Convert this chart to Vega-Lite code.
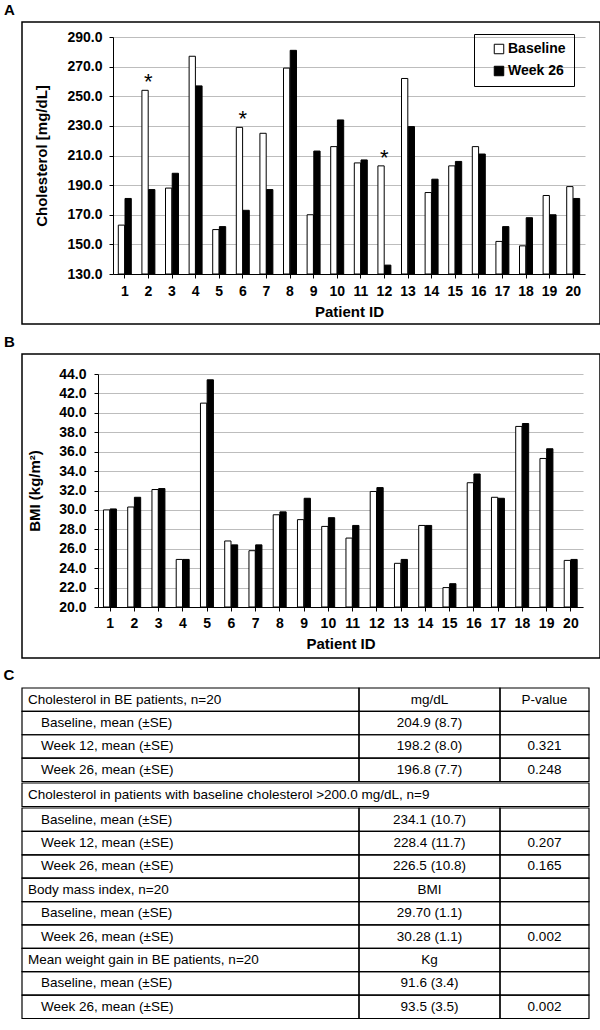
{
  "$schema": "https://vega.github.io/schema/vega-lite/v6.json",
  "padding": {"left": 3, "top": 2, "right": 0, "bottom": 0},
  "autosize": {"type": "pad"},
  "background": "white",
  "bounds": "flush",
  "spacing": 30,
  "config": {
    "view": {"stroke": null},
    "font": "Liberation Sans",
    "title": {"anchor": "start", "dx": -18, "offset": 4, "fontSize": 15, "fontWeight": "bold", "color": "black", "font": "Liberation Sans"},
    "axis": {"labelFont": "Liberation Sans", "labelFontWeight": "bold", "labelFontSize": 14, "labelColor": "black", "labelOverlap": false, "titleFont": "Liberation Sans", "titleFontWeight": "bold", "titleFontSize": 15, "titleColor": "black", "domainColor": "black", "domainWidth": 1, "tickColor": "black", "tickSize": 4, "gridColor": "#bdbdbd", "gridWidth": 1},
    "legend": {"strokeColor": "black", "padding": 8, "symbolType": "square", "symbolSize": 90, "symbolStrokeColor": "black", "symbolStrokeWidth": 1, "symbolOffset": 10, "labelFont": "Liberation Sans", "labelFontSize": 14, "labelFontWeight": "bold", "labelColor": "black", "rowPadding": 8, "labelOffset": 2}
  },
  "datasets": {
    "chol": [
      {"patient": 1, "visit": "Baseline", "value": 163}, {"patient": 1, "visit": "Week 26", "value": 181},
      {"patient": 2, "visit": "Baseline", "value": 254, "sig": "*"}, {"patient": 2, "visit": "Week 26", "value": 187},
      {"patient": 3, "visit": "Baseline", "value": 188}, {"patient": 3, "visit": "Week 26", "value": 198},
      {"patient": 4, "visit": "Baseline", "value": 277}, {"patient": 4, "visit": "Week 26", "value": 257},
      {"patient": 5, "visit": "Baseline", "value": 160}, {"patient": 5, "visit": "Week 26", "value": 162},
      {"patient": 6, "visit": "Baseline", "value": 229, "sig": "*"}, {"patient": 6, "visit": "Week 26", "value": 173},
      {"patient": 7, "visit": "Baseline", "value": 225}, {"patient": 7, "visit": "Week 26", "value": 187},
      {"patient": 8, "visit": "Baseline", "value": 269}, {"patient": 8, "visit": "Week 26", "value": 281},
      {"patient": 9, "visit": "Baseline", "value": 170}, {"patient": 9, "visit": "Week 26", "value": 213},
      {"patient": 10, "visit": "Baseline", "value": 216}, {"patient": 10, "visit": "Week 26", "value": 234},
      {"patient": 11, "visit": "Baseline", "value": 205}, {"patient": 11, "visit": "Week 26", "value": 207},
      {"patient": 12, "visit": "Baseline", "value": 203, "sig": "*"}, {"patient": 12, "visit": "Week 26", "value": 136},
      {"patient": 13, "visit": "Baseline", "value": 262}, {"patient": 13, "visit": "Week 26", "value": 229.5},
      {"patient": 14, "visit": "Baseline", "value": 185}, {"patient": 14, "visit": "Week 26", "value": 194},
      {"patient": 15, "visit": "Baseline", "value": 203}, {"patient": 15, "visit": "Week 26", "value": 206},
      {"patient": 16, "visit": "Baseline", "value": 216}, {"patient": 16, "visit": "Week 26", "value": 211},
      {"patient": 17, "visit": "Baseline", "value": 152}, {"patient": 17, "visit": "Week 26", "value": 162},
      {"patient": 18, "visit": "Baseline", "value": 149}, {"patient": 18, "visit": "Week 26", "value": 168},
      {"patient": 19, "visit": "Baseline", "value": 183}, {"patient": 19, "visit": "Week 26", "value": 170},
      {"patient": 20, "visit": "Baseline", "value": 189}, {"patient": 20, "visit": "Week 26", "value": 181}
    ],
    "bmi": [
      {"patient": 1, "visit": "Baseline", "value": 30.0}, {"patient": 1, "visit": "Week 26", "value": 30.1},
      {"patient": 2, "visit": "Baseline", "value": 30.3}, {"patient": 2, "visit": "Week 26", "value": 31.3},
      {"patient": 3, "visit": "Baseline", "value": 32.1}, {"patient": 3, "visit": "Week 26", "value": 32.2},
      {"patient": 4, "visit": "Baseline", "value": 24.9}, {"patient": 4, "visit": "Week 26", "value": 24.9},
      {"patient": 5, "visit": "Baseline", "value": 41.0}, {"patient": 5, "visit": "Week 26", "value": 43.4},
      {"patient": 6, "visit": "Baseline", "value": 26.8}, {"patient": 6, "visit": "Week 26", "value": 26.4},
      {"patient": 7, "visit": "Baseline", "value": 25.8}, {"patient": 7, "visit": "Week 26", "value": 26.4},
      {"patient": 8, "visit": "Baseline", "value": 29.5}, {"patient": 8, "visit": "Week 26", "value": 29.8},
      {"patient": 9, "visit": "Baseline", "value": 29.0}, {"patient": 9, "visit": "Week 26", "value": 31.2},
      {"patient": 10, "visit": "Baseline", "value": 28.3}, {"patient": 10, "visit": "Week 26", "value": 29.2},
      {"patient": 11, "visit": "Baseline", "value": 27.1}, {"patient": 11, "visit": "Week 26", "value": 28.4},
      {"patient": 12, "visit": "Baseline", "value": 31.9}, {"patient": 12, "visit": "Week 26", "value": 32.3},
      {"patient": 13, "visit": "Baseline", "value": 24.5}, {"patient": 13, "visit": "Week 26", "value": 24.9},
      {"patient": 14, "visit": "Baseline", "value": 28.4}, {"patient": 14, "visit": "Week 26", "value": 28.4},
      {"patient": 15, "visit": "Baseline", "value": 22.0}, {"patient": 15, "visit": "Week 26", "value": 22.4},
      {"patient": 16, "visit": "Baseline", "value": 32.8}, {"patient": 16, "visit": "Week 26", "value": 33.7},
      {"patient": 17, "visit": "Baseline", "value": 31.3}, {"patient": 17, "visit": "Week 26", "value": 31.2},
      {"patient": 18, "visit": "Baseline", "value": 38.6}, {"patient": 18, "visit": "Week 26", "value": 38.9},
      {"patient": 19, "visit": "Baseline", "value": 35.3}, {"patient": 19, "visit": "Week 26", "value": 36.3},
      {"patient": 20, "visit": "Baseline", "value": 24.8}, {"patient": 20, "visit": "Week 26", "value": 24.9}
    ],
    "tab": [
      {"g": 1, "r": 0, "c": "label", "lvl": "head", "t": "Cholesterol in BE patients, n=20"},
      {"g": 1, "r": 0, "c": "value", "t": "mg/dL"},
      {"g": 1, "r": 0, "c": "p", "t": "P-value"},
      {"g": 1, "r": 1, "c": "label", "lvl": "sub", "t": "Baseline, mean (±SE)"},
      {"g": 1, "r": 1, "c": "value", "t": "204.9 (8.7)"},
      {"g": 1, "r": 1, "c": "p", "t": ""},
      {"g": 1, "r": 2, "c": "label", "lvl": "sub", "t": "Week 12, mean (±SE)"},
      {"g": 1, "r": 2, "c": "value", "t": "198.2 (8.0)"},
      {"g": 1, "r": 2, "c": "p", "t": "0.321"},
      {"g": 1, "r": 3, "c": "label", "lvl": "sub", "t": "Week 26, mean (±SE)"},
      {"g": 1, "r": 3, "c": "value", "t": "196.8 (7.7)"},
      {"g": 1, "r": 3, "c": "p", "t": "0.248"},
      {"g": 2, "r": 0, "c": "span", "lvl": "head", "t": "Cholesterol in patients with baseline cholesterol >200.0 mg/dL, n=9"},
      {"g": 3, "r": 0, "c": "label", "lvl": "sub", "t": "Baseline, mean (±SE)"},
      {"g": 3, "r": 0, "c": "value", "t": "234.1 (10.7)"},
      {"g": 3, "r": 0, "c": "p", "t": ""},
      {"g": 3, "r": 1, "c": "label", "lvl": "sub", "t": "Week 12, mean (±SE)"},
      {"g": 3, "r": 1, "c": "value", "t": "228.4 (11.7)"},
      {"g": 3, "r": 1, "c": "p", "t": "0.207"},
      {"g": 3, "r": 2, "c": "label", "lvl": "sub", "t": "Week 26, mean (±SE)"},
      {"g": 3, "r": 2, "c": "value", "t": "226.5 (10.8)"},
      {"g": 3, "r": 2, "c": "p", "t": "0.165"},
      {"g": 3, "r": 3, "c": "label", "lvl": "head", "t": "Body mass index, n=20"},
      {"g": 3, "r": 3, "c": "value", "t": "BMI"},
      {"g": 3, "r": 3, "c": "p", "t": ""},
      {"g": 3, "r": 4, "c": "label", "lvl": "sub", "t": "Baseline, mean (±SE)"},
      {"g": 3, "r": 4, "c": "value", "t": "29.70 (1.1)"},
      {"g": 3, "r": 4, "c": "p", "t": ""},
      {"g": 3, "r": 5, "c": "label", "lvl": "sub", "t": "Week 26, mean (±SE)"},
      {"g": 3, "r": 5, "c": "value", "t": "30.28 (1.1)"},
      {"g": 3, "r": 5, "c": "p", "t": "0.002"},
      {"g": 3, "r": 6, "c": "label", "lvl": "head", "t": "Mean weight gain in BE patients, n=20"},
      {"g": 3, "r": 6, "c": "value", "t": "Kg"},
      {"g": 3, "r": 6, "c": "p", "t": ""},
      {"g": 3, "r": 7, "c": "label", "lvl": "sub", "t": "Baseline, mean (±SE)"},
      {"g": 3, "r": 7, "c": "value", "t": "91.6 (3.4)"},
      {"g": 3, "r": 7, "c": "p", "t": ""},
      {"g": 3, "r": 8, "c": "label", "lvl": "sub", "t": "Week 26, mean (±SE)"},
      {"g": 3, "r": 8, "c": "value", "t": "93.5 (3.5)"},
      {"g": 3, "r": 8, "c": "p", "t": "0.002"}
    ]
  },
  "vconcat": [
    {
      "width": 578, "height": 302,
      "view": {"stroke": "black", "strokeWidth": 1.5},
      "title": "A",
      "data": {"name": "chol"},
      "layer": [
        {
          "mark": {"type": "bar", "stroke": "black", "strokeWidth": 1},
          "encoding": {
            "x": {"field": "patient", "type": "ordinal", "scale": {"range": [91, 563], "paddingInner": 0.45, "paddingOuter": 0.225},
                  "axis": {"title": "Patient ID", "labelAngle": 0, "offset": -50, "labelPadding": 6, "titlePadding": 6, "grid": false}},
            "xOffset": {"field": "visit", "type": "nominal", "scale": {"paddingInner": 0.06}},
            "y": {"field": "value", "type": "quantitative", "scale": {"domain": [130, 290], "range": [252, 15], "nice": false, "zero": false},
                  "axis": {"title": "Cholesterol [mg/dL]", "offset": -91, "values": [130, 150, 170, 190, 210, 230, 250, 270, 290], "tickCount": 9, "format": ".1f", "grid": true, "labelPadding": 7, "titlePadding": 17}},
            "y2": {"datum": 130},
            "fill": {"field": "visit", "type": "nominal", "scale": {"domain": ["Baseline", "Week 26"], "range": ["white", "black"]},
                     "legend": {"title": null, "orient": "none", "legendX": 452, "legendY": 12}}
          }
        },
        {
          "transform": [{"filter": "datum.sig != null"}],
          "mark": {"type": "text", "fontSize": 22, "baseline": "alphabetic", "dy": -1, "color": "black"},
          "encoding": {
            "x": {"field": "patient", "type": "ordinal"},
            "y": {"field": "value", "type": "quantitative"},
            "text": {"field": "sig"}
          }
        }
      ]
    },
    {
      "width": 578, "height": 304,
      "view": {"stroke": "black", "strokeWidth": 1.5},
      "title": "B",
      "data": {"name": "bmi"},
      "layer": [
        {
          "mark": {"type": "bar", "stroke": "black", "strokeWidth": 1},
          "encoding": {
            "x": {"field": "patient", "type": "ordinal", "scale": {"range": [76, 561], "paddingInner": 0.45, "paddingOuter": 0.225},
                  "axis": {"title": "Patient ID", "labelAngle": 0, "offset": -51, "labelPadding": 5, "titlePadding": 6, "grid": false}},
            "xOffset": {"field": "visit", "type": "nominal", "scale": {"paddingInner": 0.06}},
            "y": {"field": "value", "type": "quantitative", "scale": {"domain": [20, 44], "range": [253, 20], "nice": false, "zero": false},
                  "axis": {"title": "BMI (kg/m²)", "offset": -76, "values": [20, 22, 24, 26, 28, 30, 32, 34, 36, 38, 40, 42, 44], "tickCount": 13, "format": ".1f", "grid": true, "labelPadding": 8, "titlePadding": 16}},
            "y2": {"datum": 20},
            "fill": {"field": "visit", "type": "nominal", "scale": {"domain": ["Baseline", "Week 26"], "range": ["white", "black"]},
                     "legend": {"title": null, "orient": "none", "legendX": 455, "legendY": 15}}
          }
        }
      ]
    },
    {
      "title": "C",
      "spacing": -1.2,
      "bounds": "full",
      "vconcat": [
        {
          "spacing": 0,
          "bounds": "flush",
          "hconcat": [
            {
              "width": 337, "height": 93.5,
              "data": {"name": "tab"},
              "transform": [{"filter": "datum.g == 1 && datum.c == 'label'"}],
              "encoding": {"y": {"field": "r", "type": "ordinal", "axis": null, "scale": {"paddingInner": 0, "paddingOuter": 0}}},
              "layer": [
                {"mark": {"type": "rect", "fillOpacity": 0, "stroke": "black", "strokeWidth": 1.2}},
                {"mark": {"type": "text", "align": "left", "baseline": "middle", "fontSize": 13.5, "color": "black"},
                 "encoding": {"x": {"field": "lvl", "type": "ordinal", "axis": null, "scale": {"domain": ["head", "sub"], "range": [6, 19], "padding": 0}}, "text": {"field": "t"}}}
              ]
            },
            {
              "width": 141, "height": 93.5,
              "data": {"name": "tab"},
              "transform": [{"filter": "datum.g == 1 && datum.c == 'value'"}],
              "encoding": {"y": {"field": "r", "type": "ordinal", "axis": null, "scale": {"paddingInner": 0, "paddingOuter": 0}}},
              "layer": [
                {"mark": {"type": "rect", "fillOpacity": 0, "stroke": "black", "strokeWidth": 1.2}},
                {"mark": {"type": "text", "align": "center", "baseline": "middle", "fontSize": 13.5, "color": "black"},
                 "encoding": {"text": {"field": "t"}}}
              ]
            },
            {
              "width": 89, "height": 93.5,
              "data": {"name": "tab"},
              "transform": [{"filter": "datum.g == 1 && datum.c == 'p'"}],
              "encoding": {"y": {"field": "r", "type": "ordinal", "axis": null, "scale": {"paddingInner": 0, "paddingOuter": 0}}},
              "layer": [
                {"mark": {"type": "rect", "fillOpacity": 0, "stroke": "black", "strokeWidth": 1.2}},
                {"mark": {"type": "text", "align": "center", "baseline": "middle", "fontSize": 13.5, "color": "black"},
                 "encoding": {"text": {"field": "t"}}}
              ]
            }
          ]
        },
        {
          "width": 567, "height": 23.5,
          "data": {"name": "tab"},
          "transform": [{"filter": "datum.g == 2"}],
          "encoding": {"y": {"field": "r", "type": "ordinal", "axis": null, "scale": {"paddingInner": 0, "paddingOuter": 0}}},
          "layer": [
            {"mark": {"type": "rect", "fillOpacity": 0, "stroke": "black", "strokeWidth": 1.2}},
            {"mark": {"type": "text", "align": "left", "baseline": "middle", "fontSize": 13.5, "color": "black"},
             "encoding": {"x": {"field": "lvl", "type": "ordinal", "axis": null, "scale": {"domain": ["head", "sub"], "range": [6, 19], "padding": 0}}, "text": {"field": "t"}}}
          ]
        },
        {
          "spacing": 0,
          "bounds": "flush",
          "hconcat": [
            {
              "width": 337, "height": 210.5,
              "data": {"name": "tab"},
              "transform": [{"filter": "datum.g == 3 && datum.c == 'label'"}],
              "encoding": {"y": {"field": "r", "type": "ordinal", "axis": null, "scale": {"paddingInner": 0, "paddingOuter": 0}}},
              "layer": [
                {"mark": {"type": "rect", "fillOpacity": 0, "stroke": "black", "strokeWidth": 1.2}},
                {"mark": {"type": "text", "align": "left", "baseline": "middle", "fontSize": 13.5, "color": "black"},
                 "encoding": {"x": {"field": "lvl", "type": "ordinal", "axis": null, "scale": {"domain": ["head", "sub"], "range": [6, 19], "padding": 0}}, "text": {"field": "t"}}}
              ]
            },
            {
              "width": 141, "height": 210.5,
              "data": {"name": "tab"},
              "transform": [{"filter": "datum.g == 3 && datum.c == 'value'"}],
              "encoding": {"y": {"field": "r", "type": "ordinal", "axis": null, "scale": {"paddingInner": 0, "paddingOuter": 0}}},
              "layer": [
                {"mark": {"type": "rect", "fillOpacity": 0, "stroke": "black", "strokeWidth": 1.2}},
                {"mark": {"type": "text", "align": "center", "baseline": "middle", "fontSize": 13.5, "color": "black"},
                 "encoding": {"text": {"field": "t"}}}
              ]
            },
            {
              "width": 89, "height": 210.5,
              "data": {"name": "tab"},
              "transform": [{"filter": "datum.g == 3 && datum.c == 'p'"}],
              "encoding": {"y": {"field": "r", "type": "ordinal", "axis": null, "scale": {"paddingInner": 0, "paddingOuter": 0}}},
              "layer": [
                {"mark": {"type": "rect", "fillOpacity": 0, "stroke": "black", "strokeWidth": 1.2}},
                {"mark": {"type": "text", "align": "center", "baseline": "middle", "fontSize": 13.5, "color": "black"},
                 "encoding": {"text": {"field": "t"}}}
              ]
            }
          ]
        }
      ]
    }
  ]
}
